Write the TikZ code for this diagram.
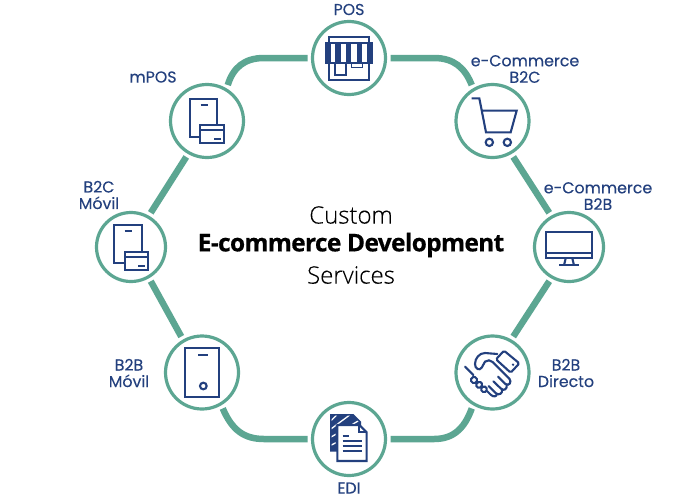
\documentclass[tikz,border=0pt]{standalone}
\usepackage{fontspec}
\setmainfont{Open Sans}
\newfontfamily\labelfont{Poppins}[FakeBold=0.25]
\newfontfamily\lightfont{Open Sans Light}[FakeBold=0.15]
\definecolor{teal1}{HTML}{5CA692}
\definecolor{navy1}{HTML}{23407E}
\tikzset{
  hub/.style={circle,draw=teal1,line width=3.2pt,fill=white,minimum size=73pt,inner sep=0pt,outer sep=5pt},
  small hub/.style={hub,minimum size=69pt},
  link/.style={draw=teal1,line width=6.5pt},
  lab/.style={text=navy1,font=\labelfont\fontsize{15.8}{16.5}\selectfont,align=center,inner sep=0pt},
  icon/.style={draw=navy1,line width=2.1pt,line join=miter},
  thin icon/.style={draw=navy1,line width=1.3pt},
  centre/.style={text=black,font=\fontsize{23}{27}\selectfont,inner sep=0pt}
}
\begin{document}
\begin{tikzpicture}[x=1pt,y=-1pt]
\useasboundingbox (0,0) rectangle (700,498);
\fill[white] (0,0) rectangle (700,498);
% hubs
\node[hub] (pos) at (349,58) {};
\node[hub] (cart) at (492.5,121) {};
\node[small hub] (mon) at (569,247) {};
\node[hub] (hand) at (492.5,372.5) {};
\node[hub] (edi) at (349,439) {};
\node[hub] (bbm) at (202,372.5) {};
\node[small hub] (bcm) at (131,247) {};
\node[hub] (mpos) at (207,121) {};
% connectors
\draw[link] (pos.east) -- (434,58) .. controls (454,58) and (465,68) .. (cart.120);
\draw[link] (cart.-60) -- (mon.120);
\draw[link] (mon.-120) -- (hand.60);
\draw[link] (hand.-120) .. controls (464,430) and (452,439) .. (434,439) -- (edi.east);
\draw[link] (edi.west) -- (264,439) .. controls (244,439) and (232,430) .. (bbm.-60);
\draw[link] (bbm.120) -- (bcm.-60);
\draw[link] (bcm.60) -- (mpos.-120);
\draw[link] (mpos.60) .. controls (233,68) and (244,58) .. (264,58) -- (pos.west);
% POS icon
\begin{scope}[shift={(290,0)},scale=1/3]
\draw[icon] (117,128) -- (117,112) -- (238,112) -- (238,128);
\draw[icon] (117,190) -- (117,240) -- (238,240) -- (238,190);
\draw[icon] (107,128) rectangle (247,190);
\foreach \a/\b in {107/122,136/152,168/183,200/216,232/247}
  \fill[navy1] (\a,128) rectangle (\b,190);
\draw[thin icon] (135,190) rectangle (168,225);
\draw[thin icon] (185,190) rectangle (218,203);
\end{scope}
% cart icon
\begin{scope}[shift={(290,0)},scale=1/3]
\draw[icon] (545,295) -- (568,295) -- (588,397) -- (662,397) -- (680,332) -- (574,332);
\draw[icon] (598,427) circle (11);
\draw[icon] (652,427) circle (11);
\end{scope}
% tablet and card icons
\begin{scope}[shift={(90,70)},scale=1/3]
\draw[icon] (300,87) rectangle (381,200);
\draw[icon] (332,104) -- (354,104);
\draw[icon,fill=white] (331,165) rectangle (402,220);
\draw[icon] (331,181) -- (402,181);
\draw[icon] (372,208) -- (392,208);
\draw[icon] (72,466) rectangle (155,580);
\draw[icon] (104,484) -- (126,484);
\draw[icon,fill=white] (105,545) rectangle (175,600);
\draw[icon] (105,560) -- (175,560);
\draw[icon] (145,588) -- (165,588);
\end{scope}
% monitor icon
\begin{scope}[shift={(500,190)},scale=1/3]
\draw[icon] (139,125) rectangle (275,205);
\draw[icon] (139,188) -- (275,188);
\draw[icon] (197,205) -- (192,226);
\draw[icon] (217,205) -- (222,226);
\draw[icon] (178,226) -- (237,226);
\end{scope}
% handshake icon
\begin{scope}[shift={(440,320)},scale=1/3,line join=round,line cap=round]
\draw[icon,rounded corners=1.5pt] (192,92) -- (238,130) -- (212,158) -- (168,118) -- cycle;
\fill[navy1] (219,134) circle (4);
\draw[icon] (172,102) -- (135,99) .. controls (118,99) and (105,115) .. (105,132) .. controls (105,147) and (118,153) .. (125,143) -- (135,125) .. controls (142,119) and (152,120) .. (158,126) -- (208,176);
\draw[icon] (208,176) .. controls (216,185) and (208,200) .. (196,192) -- (174,170);
\draw[icon] (200,195) .. controls (202,207) and (192,214) .. (183,206) -- (160,184);
\draw[icon] (186,209) .. controls (188,220) and (178,227) .. (168,220) -- (146,198);
\draw[icon] (171,222) .. controls (170,230) and (160,232) .. (152,224) -- (141,213);
\draw[icon] (75,140) -- (100,165);
\draw[icon,rounded corners=1.5pt] (90,180) -- (102,168) -- (114,180) -- (102,192) -- cycle;
\draw[icon,rounded corners=1.5pt] (106,195) -- (118,183) -- (129,194) -- (117,206) -- cycle;
\draw[icon,rounded corners=1.5pt] (121,208) -- (132,197) -- (143,208) -- (132,219) -- cycle;
\end{scope}
% EDI icon
\begin{scope}[shift={(300,390)},scale=1/3]
\fill[navy1] (90,72) -- (160,72) -- (183,95) -- (183,110) -- (112,110) -- (112,185) -- (90,185) -- cycle;
\begin{scope}
\clip (95,77) -- (158,77) -- (178,97) -- (178,105) -- (107,105) -- (107,180) -- (95,180) -- cycle;
\foreach \k in {0,...,10}
  \draw[white,line width=1.3pt] (90,{95+\k*24}) -- ({90+30+\k*24+40},{95+\k*24-70});
\end{scope}
\draw[icon,fill=white] (112,105) -- (178,105) -- (200,127) -- (200,213) -- (112,213) -- cycle;
\draw[icon] (178,105) -- (178,127) -- (200,127);
\draw[icon] (128,137) -- (146,137);
\draw[icon] (128,153) -- (185,153);
\draw[icon] (128,168) -- (185,168);
\draw[icon] (128,183) -- (185,183);
\end{scope}
% phone icon
\begin{scope}[shift={(100,320)},scale=1/3]
\draw[icon] (256,85) rectangle (358,230);
\draw[icon] (294,105) -- (324,105);
\draw[icon] (310,198) circle (10);
\end{scope}
% labels
\node[lab] (lpos) at (349,9.5) {POS};
\node[lab] (lcart) at (525,69) {e-Commerce\\B2C};
\node[lab] (lmon) at (598,196) {e-Commerce\\B2B};
\node[lab] (lhand) at (566,373) {B2B\\Directo};
\node[lab] (ledi) at (349,488) {EDI};
\node[lab] (lbbm) at (129,373) {B2B\\Móvil};
\node[lab] (lbcm) at (99,195) {B2C\\Móvil};
\node[lab] (lmpos) at (153,77) {mPOS};
% centre
\node[centre] (c1) at (351,215) {\lightfont\fontsize{24}{27}\selectfont Custom};
\node[centre] (c2) at (351,245) {\bfseries\addfontfeature{LetterSpace=-2.5,FakeBold=0.5}\fontsize{24.4}{27}\selectfont E-commerce Development};
\node[centre] (c3) at (351,275) {\lightfont\fontsize{24}{27}\selectfont Services};
\end{tikzpicture}
\end{document}
